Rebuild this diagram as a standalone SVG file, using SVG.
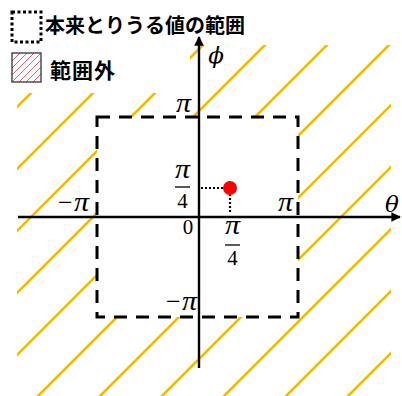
<svg xmlns="http://www.w3.org/2000/svg" width="402" height="396" viewBox="0 0 402 396">
  <style>
    .stripe { stroke: #F5B800; stroke-width: 2.6; fill: none; }
    .axis { stroke: #000; stroke-width: 2.4; fill: none; }
    .box { stroke: #000; stroke-width: 3; fill: none; stroke-dasharray: 13 9; }
    .dot { stroke: #000; stroke-width: 2.2; fill: none; stroke-dasharray: 2 2; }
    .math { font-family: "DejaVu Serif", "Liberation Serif", serif; font-style: italic; font-size: 23px; fill: #000; }
    .pi { font-family: "Liberation Serif", "DejaVu Serif", serif; font-style: italic; font-size: 28px; fill: #000; }
    .minus { font-family: "Liberation Serif", "DejaVu Serif", serif; font-size: 26px; fill: #000; }
    .num { font-family: "Liberation Serif", "DejaVu Serif", serif; font-size: 21px; fill: #000; }
    .jp { font-family: "Noto Sans CJK JP", "Noto Sans", sans-serif; font-weight: 700; fill: #000; }
    .hatch { stroke: #E06674; stroke-width: 1; }
  </style>
  <defs>
    <clipPath id="outside">
      <path clip-rule="evenodd" d="M17,93 L190,93 L190,45 L391,45 L391,396 L17,396 Z M97,117 L298,117 L298,317 L97,317 Z"/>
    </clipPath>
    <clipPath id="legbox">
      <rect x="12" y="53" width="29" height="29"/>
    </clipPath>
    <marker id="arr" viewBox="0 0 10 10" refX="9" refY="5" markerWidth="4" markerHeight="4" orient="auto" markerUnits="strokeWidth">
      <path d="M0,0 L10,5 L0,10 Z" fill="#000"/>
    </marker>
  </defs>

  <g id="legend">
    <rect x="12" y="12" width="29" height="30" fill="none" stroke="#000" stroke-width="3" stroke-dasharray="3 2.5"/>
    <text class="jp" x="45" y="33" font-size="20">本来とりうる値の範囲</text>
    <g clip-path="url(#legbox)">
      <line class="hatch" x1="5" y1="82" x2="34" y2="53"/>
      <line class="hatch" x1="12" y1="82" x2="41" y2="53"/>
      <line class="hatch" x1="19" y1="82" x2="48" y2="53"/>
      <line class="hatch" x1="26" y1="82" x2="55" y2="53"/>
      <line class="hatch" x1="33" y1="82" x2="62" y2="53"/>
      <line class="hatch" x1="-2" y1="82" x2="27" y2="53"/>
      <line class="hatch" x1="-9" y1="82" x2="20" y2="53"/>
      <line class="hatch" x1="-16" y1="82" x2="13" y2="53"/>
    </g>
    <rect x="12" y="53" width="29" height="29" fill="none" stroke="#333" stroke-width="1.3"/>
    <text class="jp" x="50" y="78" font-size="21" letter-spacing="1">範囲外</text>
  </g>

  <g id="stripes" clip-path="url(#outside)">
    <line class="stripe" x1="-10" y1="134" x2="134" y2="-10"/>
    <line class="stripe" x1="-10" y1="196" x2="196" y2="-10"/>
    <line class="stripe" x1="-10" y1="258" x2="258" y2="-10"/>
    <line class="stripe" x1="-10" y1="320" x2="320" y2="-10"/>
    <line class="stripe" x1="-10" y1="382" x2="382" y2="-10"/>
    <line class="stripe" x1="-10" y1="444" x2="444" y2="-10"/>
    <line class="stripe" x1="-10" y1="506" x2="506" y2="-10"/>
    <line class="stripe" x1="-10" y1="568" x2="568" y2="-10"/>
    <line class="stripe" x1="-10" y1="630" x2="630" y2="-10"/>
    <line class="stripe" x1="-10" y1="692" x2="692" y2="-10"/>
    <line class="stripe" x1="-10" y1="754" x2="754" y2="-10"/>
  </g>

  <g id="range-box">
    <path class="box" d="M97,117 L298,117 L298,317 L97,317 Z"/>
  </g>

  <g id="connectors">
    <line class="axis" x1="18" y1="217" x2="400" y2="217" marker-end="url(#arr)"/>
    <line class="axis" x1="199" y1="368" x2="199" y2="37" marker-end="url(#arr)"/>
    <line class="dot" x1="201" y1="188" x2="226" y2="188"/>
    <line class="dot" x1="230" y1="194" x2="230" y2="214"/>
  </g>

  <g id="point">
    <circle cx="230" cy="188" r="7" fill="#FF0000"/>
  </g>

  <g id="labels">
    <text class="math" x="216" y="63" text-anchor="middle">ϕ</text>
    <text class="math" x="392" y="212" text-anchor="middle" font-size="21">θ</text>
    <text class="pi" x="176" y="112" textLength="15" lengthAdjust="spacingAndGlyphs">π</text>
    <text class="pi" x="278" y="211" textLength="15" lengthAdjust="spacingAndGlyphs">π</text>
    <text class="minus" x="58" y="211">−</text>
    <text class="pi" x="74" y="211" textLength="15" lengthAdjust="spacingAndGlyphs">π</text>
    <text class="minus" x="166" y="310">−</text>
    <text class="pi" x="182" y="310" textLength="15" lengthAdjust="spacingAndGlyphs">π</text>
    <text class="num" x="188" y="234" text-anchor="middle">0</text>
    <text class="pi" x="175" y="178" textLength="15" lengthAdjust="spacingAndGlyphs">π</text>
    <line x1="175" y1="187" x2="190" y2="187" stroke="#000" stroke-width="1.3"/>
    <text class="num" x="182.5" y="208" text-anchor="middle">4</text>
    <text class="pi" x="225" y="234" textLength="15" lengthAdjust="spacingAndGlyphs">π</text>
    <line x1="225" y1="245" x2="240" y2="245" stroke="#000" stroke-width="1.3"/>
    <text class="num" x="232.5" y="265" text-anchor="middle">4</text>
  </g>
</svg>
